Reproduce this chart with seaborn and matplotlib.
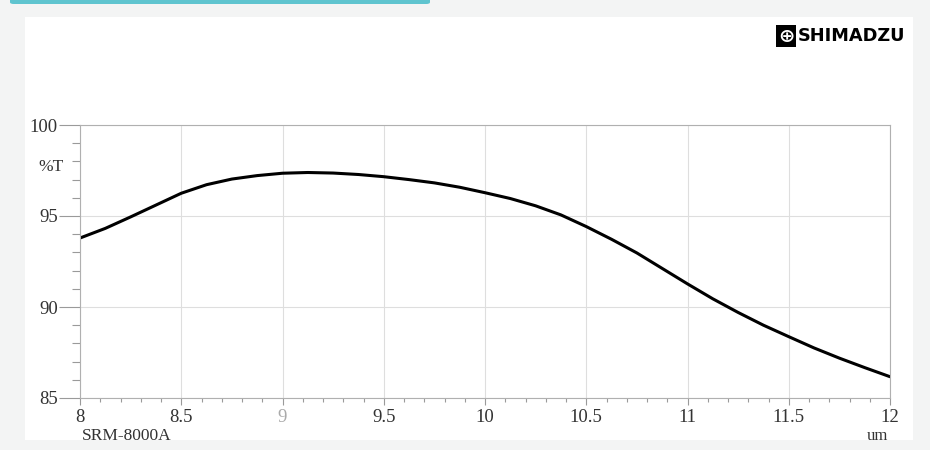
import numpy as np
import pandas as pd
import seaborn as sns
import matplotlib.pyplot as plt
from matplotlib.patches import FancyBboxPatch, Rectangle
from matplotlib.ticker import MultipleLocator

# Данные спектра
wavelength = [8.0, 8.125, 8.25, 8.375, 8.5, 8.625, 8.75, 8.875, 9.0, 9.125,
              9.25, 9.375, 9.5, 9.625, 9.75, 9.875, 10.0, 10.125, 10.25, 10.375,
              10.5, 10.625, 10.75, 10.875, 11.0, 11.125, 11.25, 11.375, 11.5,
              11.625, 11.75, 11.875, 12.0]
transmittance = [93.79, 94.32, 94.95, 95.6, 96.25, 96.72, 97.03, 97.22, 97.35, 97.39,
                 97.36, 97.28, 97.16, 97.0, 96.82, 96.58, 96.28, 95.96, 95.56, 95.06,
                 94.42, 93.72, 92.97, 92.12, 91.27, 90.45, 89.7, 89.0, 88.37,
                 87.75, 87.19, 86.67, 86.17]
x_ticks = [8, 8.5, 9, 9.5, 10, 10.5, 11, 11.5, 12]
x_labels = ['8', '8.5', '9', '9.5', '10', '10.5', '11', '11.5', '12']
y_ticks = [85, 90, 95, 100]

df = pd.DataFrame({'um': wavelength, 'T': transmittance})

sns.set_style('white')
plt.rcParams['font.family'] = ['Liberation Serif', 'DejaVu Sans']

fig = plt.figure(figsize=(9.3, 4.5), dpi=100)
fig.patch.set_facecolor('#f3f4f4')

# белая карточка и бирюзовая полоса сверху
fig.add_artist(Rectangle((25 / 930, 1 - 440 / 450), 888 / 930, 423 / 450,
                         transform=fig.transFigure, facecolor='white',
                         edgecolor='none', zorder=0))
fig.add_artist(FancyBboxPatch((10 / 930, 1 - 4 / 450), 420 / 930, 6 / 450,
                              boxstyle='round,pad=0,rounding_size=0.004',
                              transform=fig.transFigure, facecolor='#5fc4cf',
                              edgecolor='none', zorder=1))

ax = fig.add_axes([80 / 930, 52 / 450, 810 / 930, 273 / 450])
sns.lineplot(data=df, x='um', y='T', ax=ax, color='black', linewidth=2.2)

ax.set_xlim(8, 12)
ax.set_ylim(85, 100)
ax.set_xticks(x_ticks)
ax.set_xticklabels(x_labels)
ax.set_yticks(y_ticks)
ax.xaxis.set_minor_locator(MultipleLocator(0.1))
ax.yaxis.set_minor_locator(MultipleLocator(1))
ax.grid(True, which='major', color='#dedede', linewidth=0.8)
ax.set_xlabel('')
ax.set_ylabel('')
for s in ax.spines.values():
    s.set_color('#b0b0b0')
    s.set_linewidth(0.8)
ax.tick_params(axis='both', which='both', bottom=True, left=True,
               direction='out', color='#9a9a9a', width=0.8)
ax.tick_params(axis='x', which='major', length=5, pad=3,
               labelsize=13.5, labelcolor='#333333')
ax.tick_params(axis='x', which='minor', length=3)
ax.tick_params(axis='y', which='major', length=15, pad=1,
               labelsize=13.5, labelcolor='#333333')
ax.tick_params(axis='y', which='minor', length=6)
ax.get_xticklabels()[2].set_color('#aaaaaa')

ax.text(-0.02, 0.845, '%T', transform=ax.transAxes, fontsize=12.5,
        color='#333333', ha='right', va='center')
ax.text(0.002, -0.11, 'SRM-8000A', transform=ax.transAxes, fontsize=12.5,
        color='#333333', ha='left', va='top')
ax.text(0.998, -0.11, 'um', transform=ax.transAxes, fontsize=12,
        color='#333333', ha='right', va='top')

# логотип
fig.text(786 / 930, 1 - 36 / 450, '\u2295', family='DejaVu Sans', fontsize=14,
         color='white', ha='center', va='center', weight='bold',
         bbox=dict(boxstyle='square,pad=0.08', facecolor='black', edgecolor='none'))
fig.text(798 / 930, 1 - 36 / 450, 'SHIMADZU', family='DejaVu Sans', fontsize=12.8,
         color='black', ha='left', va='center', weight='bold')

fig.savefig('out.png', dpi=100, facecolor=fig.get_facecolor())
